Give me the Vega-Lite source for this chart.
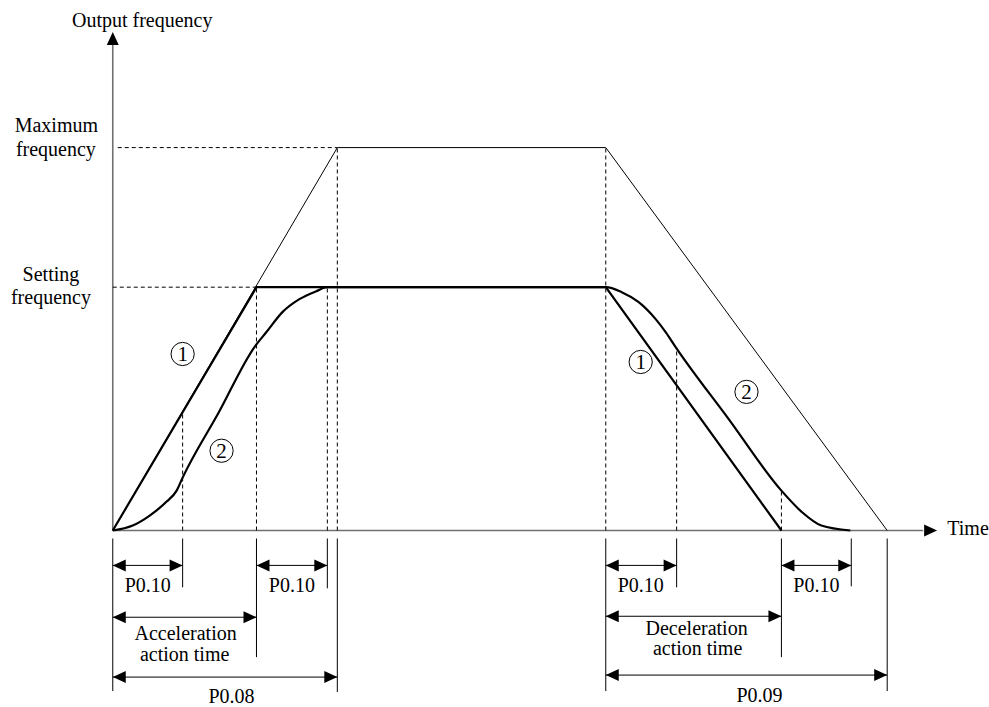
{
  "$schema": "https://vega.github.io/schema/vega-lite/v6.json",
  "width": 989,
  "height": 707,
  "autosize": {"type": "fit", "contains": "padding"},
  "padding": 0,
  "background": "white",
  "config": {"view": {"stroke": null}},
  "datasets": {
    "axes": [
      {"x": 0, "y": 0, "x2": 812, "y2": 0},
      {"x": 0, "y": 0, "x2": 0, "y2": 487}
    ],
    "dashed": [
      {"x": 5, "y": 384, "x2": 225, "y2": 384},
      {"x": 0, "y": 244, "x2": 144, "y2": 244},
      {"x": 225, "y": 0, "x2": 225, "y2": 384},
      {"x": 215, "y": 0, "x2": 215, "y2": 244},
      {"x": 144, "y": 0, "x2": 144, "y2": 244},
      {"x": 70, "y": 0, "x2": 70, "y2": 118},
      {"x": 494, "y": 0, "x2": 494, "y2": 384},
      {"x": 565, "y": 0, "x2": 565, "y2": 184},
      {"x": 670, "y": 0, "x2": 670, "y2": 40}
    ],
    "solid": [
      {"x": 0, "y": -8, "x2": 0, "y2": -161},
      {"x": 70, "y": -8, "x2": 70, "y2": -57},
      {"x": 144, "y": -8, "x2": 144, "y2": -127},
      {"x": 215, "y": -8, "x2": 215, "y2": -58},
      {"x": 225, "y": -8, "x2": 225, "y2": -162},
      {"x": 494, "y": -8, "x2": 494, "y2": -161},
      {"x": 565, "y": -8, "x2": 565, "y2": -57},
      {"x": 670, "y": -8, "x2": 670, "y2": -127},
      {"x": 740, "y": -8, "x2": 740, "y2": -56},
      {"x": 776, "y": -8, "x2": 776, "y2": -161},
      {"x": 0, "y": -35, "x2": 70, "y2": -35},
      {"x": 144, "y": -35, "x2": 215, "y2": -35},
      {"x": 0, "y": -87, "x2": 144, "y2": -87},
      {"x": 0, "y": -147, "x2": 225, "y2": -147},
      {"x": 494, "y": -35, "x2": 565, "y2": -35},
      {"x": 670, "y": -35, "x2": 740, "y2": -35},
      {"x": 494, "y": -86, "x2": 670, "y2": -86},
      {"x": 494, "y": -145, "x2": 776, "y2": -145}
    ],
    "arrows": [
      {"x": 0, "y": -35, "dir": "left"}, {"x": 70, "y": -35, "dir": "right"},
      {"x": 144, "y": -35, "dir": "left"}, {"x": 215, "y": -35, "dir": "right"},
      {"x": 0, "y": -87, "dir": "left"}, {"x": 144, "y": -87, "dir": "right"},
      {"x": 0, "y": -147, "dir": "left"}, {"x": 225, "y": -147, "dir": "right"},
      {"x": 494, "y": -35, "dir": "left"}, {"x": 565, "y": -35, "dir": "right"},
      {"x": 670, "y": -35, "dir": "left"}, {"x": 740, "y": -35, "dir": "right"},
      {"x": 494, "y": -86, "dir": "left"}, {"x": 670, "y": -86, "dir": "right"},
      {"x": 494, "y": -145, "dir": "left"}, {"x": 776, "y": -145, "dir": "right"},
      {"x": 826, "y": 0, "dir": "right"},
      {"x": 0, "y": 500, "dir": "up"}
    ],
    "line1": [
      {"x": 0, "y": 0}, {"x": 144, "y": 244}, {"x": 494, "y": 244}, {"x": 670, "y": 0}
    ],
    "thin": [
      {"x": 0, "y": 0}, {"x": 225, "y": 384}, {"x": 494, "y": 384}, {"x": 776, "y": 0}
    ],
    "curve2": [
      {"x": 0, "y": 0}, {"x": 20, "y": 5}, {"x": 37, "y": 15}, {"x": 54, "y": 29},
      {"x": 64, "y": 40}, {"x": 70, "y": 53}, {"x": 106, "y": 118}, {"x": 142, "y": 184},
      {"x": 154, "y": 199}, {"x": 170, "y": 219}, {"x": 187, "y": 232}, {"x": 204, "y": 240},
      {"x": 215, "y": 244}, {"x": 494, "y": 244}, {"x": 510, "y": 239}, {"x": 527, "y": 229},
      {"x": 544, "y": 212}, {"x": 554, "y": 199}, {"x": 564, "y": 184}, {"x": 617, "y": 112},
      {"x": 670, "y": 40}, {"x": 690, "y": 19}, {"x": 710, "y": 5}, {"x": 739, "y": 0}
    ],
    "circles": [
      {"x": 70, "y": 177, "label": "1"},
      {"x": 109, "y": 80, "label": "2"},
      {"x": 529, "y": 169, "label": "1"},
      {"x": 635, "y": 139, "label": "2"}
    ],
    "labels": [
      {"x": 29.5, "y": 505, "text": "Output frequency", "align": "center"},
      {"x": -56.5, "y": 400, "text": "Maximum", "align": "center"},
      {"x": -57, "y": 376, "text": "frequency", "align": "center"},
      {"x": -62, "y": 250, "text": "Setting", "align": "center"},
      {"x": -62, "y": 227, "text": "frequency", "align": "center"},
      {"x": 35, "y": -62, "text": "P0.10", "align": "center"},
      {"x": 179.5, "y": -62, "text": "P0.10", "align": "center"},
      {"x": 529, "y": -62, "text": "P0.10", "align": "center"},
      {"x": 705, "y": -62, "text": "P0.10", "align": "center"},
      {"x": 73, "y": -110, "text": "Acceleration", "align": "center"},
      {"x": 72, "y": -131, "text": "action time", "align": "center"},
      {"x": 119, "y": -173, "text": "P0.08", "align": "center"},
      {"x": 585, "y": -105, "text": "Deceleration", "align": "center"},
      {"x": 586, "y": -125, "text": "action time", "align": "center"},
      {"x": 648, "y": -172, "text": "P0.09", "align": "center"},
      {"x": 857, "y": -5, "text": "Time", "align": "center"}
    ]
  },
  "encoding": {
    "x": {"field": "x", "type": "quantitative", "scale": {"domain": [-113, 876], "nice": false, "zero": false}, "axis": null},
    "y": {"field": "y", "type": "quantitative", "scale": {"domain": [-175, 532], "nice": false, "zero": false}, "axis": null}
  },
  "layer": [
    {
      "data": {"name": "axes"},
      "mark": {"type": "rule", "color": "#707070", "strokeWidth": 1.6},
      "encoding": {"x2": {"field": "x2"}, "y2": {"field": "y2"}}
    },
    {
      "data": {"name": "dashed"},
      "mark": {"type": "rule", "color": "black", "strokeWidth": 1, "strokeDash": [4, 3]},
      "encoding": {"x2": {"field": "x2"}, "y2": {"field": "y2"}}
    },
    {
      "data": {"name": "solid"},
      "mark": {"type": "rule", "color": "black", "strokeWidth": 1},
      "encoding": {"x2": {"field": "x2"}, "y2": {"field": "y2"}}
    },
    {
      "data": {"name": "thin"},
      "mark": {"type": "line", "color": "black", "strokeWidth": 1}
    },
    {
      "data": {"name": "line1"},
      "mark": {"type": "line", "color": "black", "strokeWidth": 2.2}
    },
    {
      "data": {"name": "curve2"},
      "mark": {"type": "line", "color": "black", "strokeWidth": 2.2, "interpolate": "monotone"}
    },
    {
      "data": {"name": "arrows"},
      "mark": {"type": "point", "filled": true, "color": "black", "opacity": 1, "size": 676},
      "encoding": {
        "shape": {
          "field": "dir", "type": "nominal", "legend": null,
          "scale": {"domain": ["left", "right", "up"], "range": ["M0,0L1,-0.46L1,0.46Z", "M0,0L-1,-0.46L-1,0.46Z", "M0,0L-0.46,1L0.46,1Z"]}
        }
      }
    },
    {
      "data": {"name": "circles"},
      "mark": {"type": "point", "shape": "circle", "filled": false, "color": "black", "strokeWidth": 1, "opacity": 1, "size": 540}
    },
    {
      "data": {"name": "circles"},
      "mark": {"type": "text", "font": "Liberation Serif", "fontSize": 21, "baseline": "alphabetic", "align": "center", "dy": 7.5, "color": "black"},
      "encoding": {"text": {"field": "label"}}
    },
    {
      "data": {"name": "labels"},
      "mark": {"type": "text", "font": "Liberation Serif", "fontSize": 20, "baseline": "alphabetic", "align": "center", "color": "black"},
      "encoding": {"text": {"field": "text"}}
    }
  ]
}
